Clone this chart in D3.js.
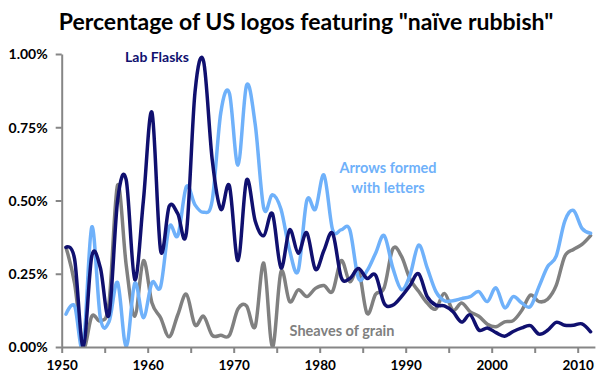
<!DOCTYPE html>
<html><head><meta charset="utf-8">
<script src="https://cdn.jsdelivr.net/npm/d3@7"></script>
<style>
body{margin:0;background:#fff;}
svg text{font-family:Lato,"Liberation Sans",sans-serif;font-weight:bold;}
</style>
</head><body>
<svg id="chart" width="611" height="382"></svg>
<script>
// ---- data (values in percent) ----
const years = d3.range(1950, 2012);
const labFlasks = [0.34,0.30,0.00,0.31,0.27,0.11,0.50,0.57,0.23,0.50,
  0.80,0.33,0.48,0.455,0.39,0.87,0.975,0.64,0.47,0.55,
  0.295,0.57,0.43,0.38,0.455,0.27,0.40,0.32,0.39,0.265,
  0.33,0.388,0.238,0.234,0.268,0.234,0.245,0.149,0.143,0.172,
  0.21,0.25,0.172,0.143,0.14,0.12,0.085,0.11,0.058,0.065,
  0.049,0.037,0.053,0.065,0.073,0.044,0.057,0.084,0.074,0.074,
  0.079,0.052];
const arrows = [0.112,0.14,0.00,0.41,0.098,0.086,0.22,0.00,0.218,0.10,
  0.22,0.206,0.41,0.38,0.547,0.485,0.46,0.50,0.80,0.866,
  0.621,0.894,0.76,0.473,0.52,0.47,0.33,0.26,0.50,0.47,
  0.587,0.40,0.40,0.40,0.235,0.26,0.32,0.38,0.27,0.196,
  0.245,0.348,0.27,0.19,0.158,0.158,0.165,0.172,0.189,0.155,
  0.202,0.134,0.172,0.15,0.138,0.206,0.274,0.31,0.43,0.466,
  0.405,0.388];
const sheaves = [0.34,0.217,0.00,0.105,0.09,0.15,0.553,0.28,0.105,0.295,
  0.15,0.10,0.035,0.11,0.18,0.075,0.105,0.04,0.04,0.04,
  0.13,0.14,0.07,0.286,0.00,0.257,0.155,0.195,0.172,0.20,
  0.21,0.19,0.295,0.223,0.265,0.115,0.18,0.203,0.335,0.31,
  0.232,0.19,0.15,0.13,0.183,0.125,0.15,0.12,0.105,0.078,
  0.069,0.086,0.09,0.125,0.177,0.155,0.163,0.21,0.31,0.333,
  0.35,0.38];
const yTickValues = [0, 0.25, 0.5, 0.75, 1.0];
const xTickYears = d3.range(1950, 2015, 5);
const xLabelYears = [1950, 1960, 1970, 1980, 1990, 2000, 2010];
const seriesNames = ["Sheaves of grain", "Arrows formed with letters", "Lab Flasks"];
const seriesColors = ["#808080", "#6fb1fa", "#10106f"];

// ---- layout ----
const svg = d3.select("#chart");
const x = d3.scaleLinear().domain([1950, 2012]).range([61.7, 594.9]);
const y = d3.scaleLinear().domain([0, 1]).range([347, 54]);
const axisColor = "#868686";

svg.append("defs").append("clipPath").attr("id", "plotclip")
  .append("rect").attr("x", 61.7).attr("y", 30).attr("width", 540).attr("height", 317);

// title
svg.append("text").attr("x", 306).attr("y", 30).attr("text-anchor", "middle")
  .style("font-size", "23px").attr("fill", "#000")
  .text('Percentage of US logos featuring "na\u00efve rubbish"');

// series
const line = d3.line()
  .x((d, i) => x(years[i] + 0.5))
  .y(d => y(d))
  .curve(d3.curveCardinal.tension(0));

const g = svg.append("g").attr("clip-path", "url(#plotclip)");
[sheaves, arrows, labFlasks].forEach((s, i) => {
  g.append("path").datum(s).attr("d", line)
    .attr("fill", "none").attr("stroke", seriesColors[i])
    .attr("stroke-width", 3.5).attr("stroke-linejoin", "round").attr("stroke-linecap", "round");
});

// axes
const yAxis = svg.append("g").attr("transform", `translate(${x(1950)},0)`)
  .call(d3.axisLeft(y).tickValues(yTickValues).tickSize(6).tickSizeOuter(0)
    .tickFormat(d => d.toFixed(2) + "%"));
const xAxis = svg.append("g").attr("transform", `translate(0,${y(0)})`)
  .call(d3.axisBottom(x).tickValues(xTickYears).tickSize(6).tickSizeOuter(0)
    .tickFormat(d => xLabelYears.includes(d) ? String(d) : ""));
[yAxis, xAxis].forEach(a => {
  a.select(".domain").attr("stroke", axisColor).attr("stroke-width", 2);
  a.selectAll(".tick line").attr("stroke", axisColor).attr("stroke-width", 2);
  a.selectAll(".tick text").attr("fill", "#000").style("font-size", "13.5px");
});
yAxis.selectAll(".tick text").attr("x", -14).attr("dy", "0.35em").style("font-size", "14px");
xAxis.selectAll(".tick text").attr("y", 13);

// series labels
svg.append("text").attr("x", 157).attr("y", 62).attr("text-anchor", "middle")
  .style("font-size", "14px").attr("fill", seriesColors[2]).text(seriesNames[2]);
const arrowLbl = svg.append("text").attr("x", 388).attr("y", 173).attr("text-anchor", "middle")
  .style("font-size", "14.5px").attr("fill", seriesColors[1]);
arrowLbl.append("tspan").attr("x", 388).text("Arrows formed");
arrowLbl.append("tspan").attr("x", 388).attr("dy", 20).text("with letters");
svg.append("text").attr("x", 342).attr("y", 336).attr("text-anchor", "middle")
  .style("font-size", "14.5px").attr("fill", seriesColors[0]).text(seriesNames[0]);
</script>
</body></html>
